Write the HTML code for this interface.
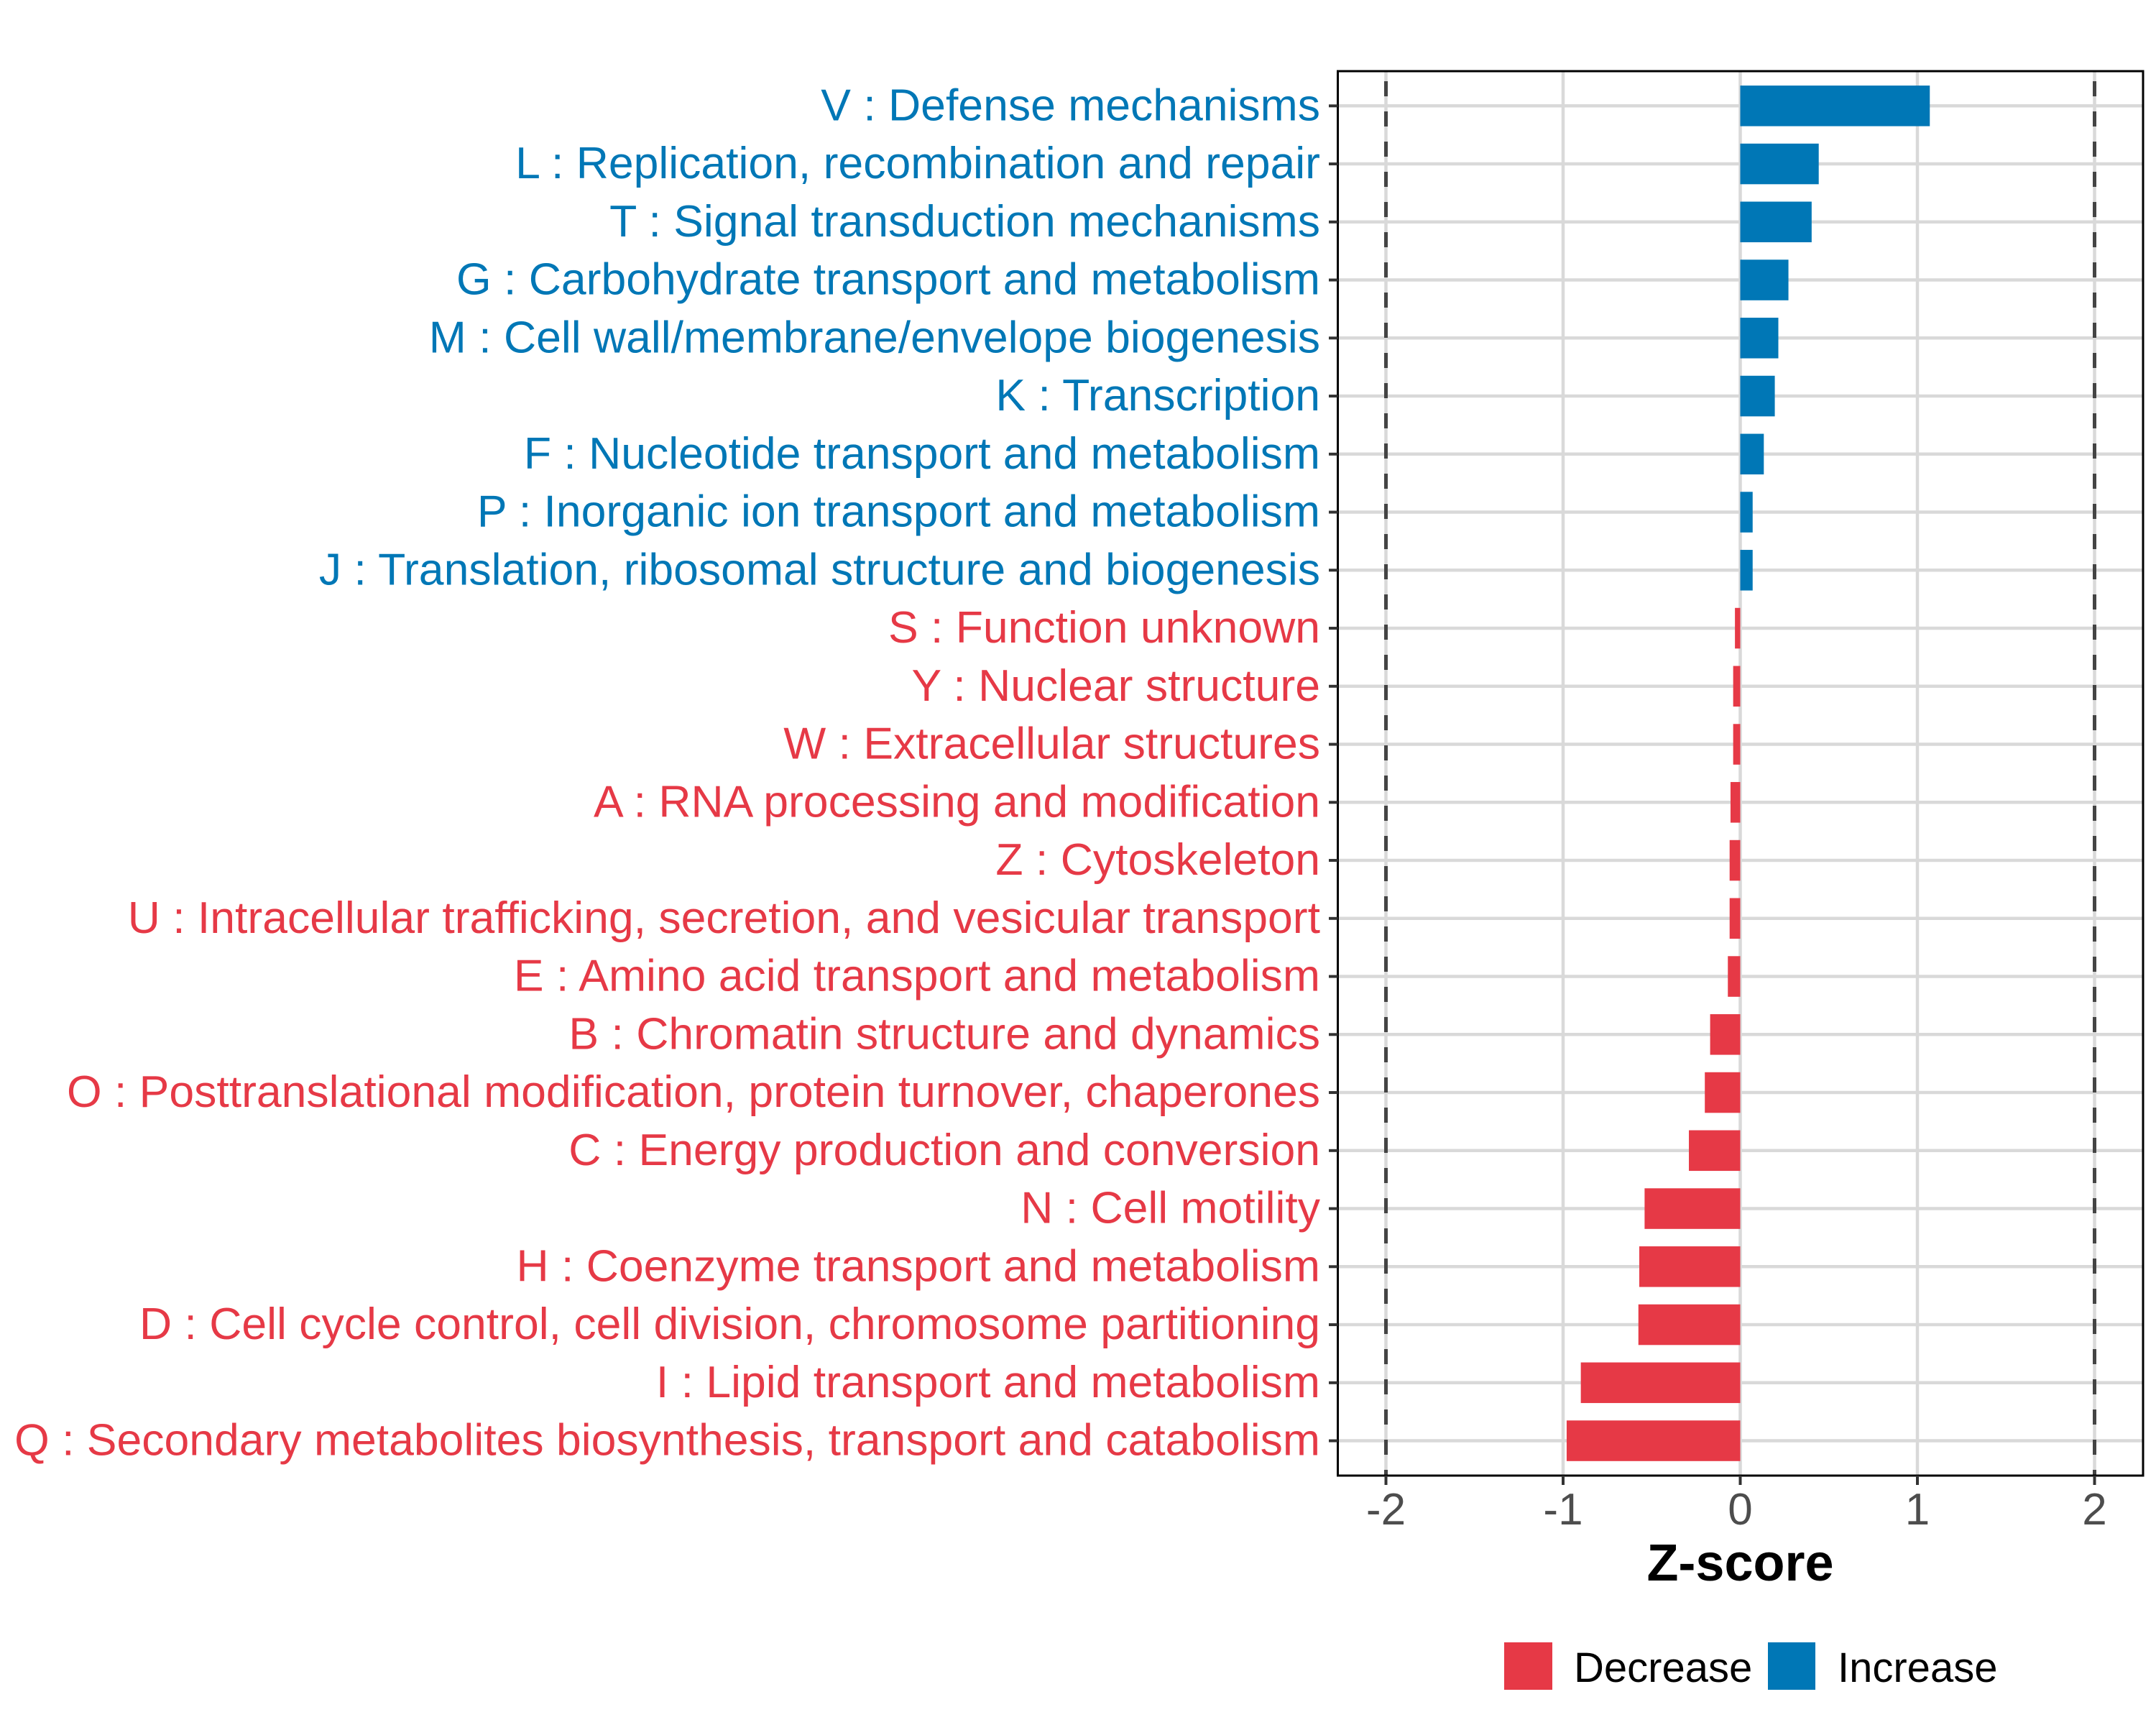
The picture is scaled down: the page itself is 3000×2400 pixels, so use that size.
<!DOCTYPE html>
<html><head><meta charset="utf-8"><style>
html,body{margin:0;padding:0;background:#fff;}
svg{display:block;font-family:"Liberation Sans",Arial,sans-serif;}
</style></head><body>
<svg id="chart" width="3000" height="2400" viewBox="0 0 3000 2400" xmlns="http://www.w3.org/2000/svg">
<rect x="0" y="0" width="3000" height="2400" fill="#fff"/>
<g id="grid"></g>
<g id="bars"></g>
<g id="refs"></g>
<rect x="1861.5" y="99" width="1120.5" height="1954" fill="none" stroke="#000" stroke-width="3"/>
<g id="yaxis"></g>
<g id="xaxis"></g>
<text x="2421.5" y="2199" text-anchor="middle" font-size="72" font-weight="bold" fill="#000">Z-score</text>
<g>
<rect x="2093" y="2285" width="67" height="66" fill="#E63946"/>
<text x="2190" y="2340" font-size="58" fill="#000">Decrease</text>
<rect x="2460" y="2285" width="66" height="66" fill="#0077B6"/>
<text x="2557" y="2340" font-size="58" fill="#000">Increase</text>
</g>
</svg>
<script>
const categories = ["V : Defense mechanisms","L : Replication, recombination and repair","T : Signal transduction mechanisms","G : Carbohydrate transport and metabolism","M : Cell wall/membrane/envelope biogenesis","K : Transcription","F : Nucleotide transport and metabolism","P : Inorganic ion transport and metabolism","J : Translation, ribosomal structure and biogenesis","S : Function unknown","Y : Nuclear structure","W : Extracellular structures","A : RNA processing and modification","Z : Cytoskeleton","U : Intracellular trafficking, secretion, and vesicular transport","E : Amino acid transport and metabolism","B : Chromatin structure and dynamics","O : Posttranslational modification, protein turnover, chaperones","C : Energy production and conversion","N : Cell motility","H : Coenzyme transport and metabolism","D : Cell cycle control, cell division, chromosome partitioning","I : Lipid transport and metabolism","Q : Secondary metabolites biosynthesis, transport and catabolism"];
const zscores = [1.07,0.443,0.403,0.272,0.215,0.195,0.133,0.07,0.07,-0.03,-0.04,-0.04,-0.055,-0.06,-0.06,-0.07,-0.17,-0.2,-0.29,-0.54,-0.57,-0.575,-0.9,-0.98];
const xTicks = [-2,-1,0,1,2];
const xTickLabels = ["-2","-1","0","1","2"];
const refLines = [-2,2];

const NS="http://www.w3.org/2000/svg";
const X0=2421.5, UNIT=246.5, Y0=147.3, STEP=80.75, BARH=0.7*STEP;
function xs(v){return X0+v*UNIT;}
function ys(i){return Y0+i*STEP;}
function mk(tag,attrs,parent){const e=document.createElementNS(NS,tag);for(const k in attrs)e.setAttribute(k,attrs[k]);parent.appendChild(e);return e;}
const grid=document.getElementById('grid'),bars=document.getElementById('bars'),refs=document.getElementById('refs'),ya=document.getElementById('yaxis'),xa=document.getElementById('xaxis');
const BLUE="#0077B6", RED="#E63946";
xTicks.forEach((t,i)=>{
  const g=mk('line',{x1:xs(t),x2:xs(t),y1:99,y2:2053,stroke:'#d9d9d9','stroke-width':4.5},grid);
  
  
  const tk=mk('line',{x1:xs(t),x2:xs(t),y1:2053,y2:2066,stroke:'#333','stroke-width':4},xa);
  
  
  const tl=mk('text',{x:xs(t),y:2121,'text-anchor':'middle','font-size':62,fill:'#4d4d4d'},xa);
  tl.textContent=xTickLabels[i];
  
  
});
categories.forEach((c,i)=>{
  const y=ys(i), v=zscores[i], col=v>=0?BLUE:RED;
  const g=mk('line',{x1:1861.5,x2:2982,y1:y,y2:y,stroke:'#d9d9d9','stroke-width':4.5},grid);
  
  
  const b=mk('rect',{x:Math.min(xs(0),xs(v)),y:y-BARH/2,width:Math.abs(xs(v)-xs(0)),height:BARH,fill:col},bars);
  
  
  const tk=mk('line',{x1:1849,x2:1861.5,y1:y,y2:y,stroke:'#333','stroke-width':4},ya);
  
  
  const t=mk('text',{x:1837,y:y+20,'text-anchor':'end','font-size':62.5,fill:col},ya);
  t.textContent=c;
  
  
});
refLines.forEach(r=>{
  const l=mk('line',{x1:xs(r),x2:xs(r),y1:99,y2:2053,stroke:'#444','stroke-width':5,'stroke-dasharray':'21 21','stroke-dashoffset':'-14'},refs);
  
  
});
</script>
</body></html>
